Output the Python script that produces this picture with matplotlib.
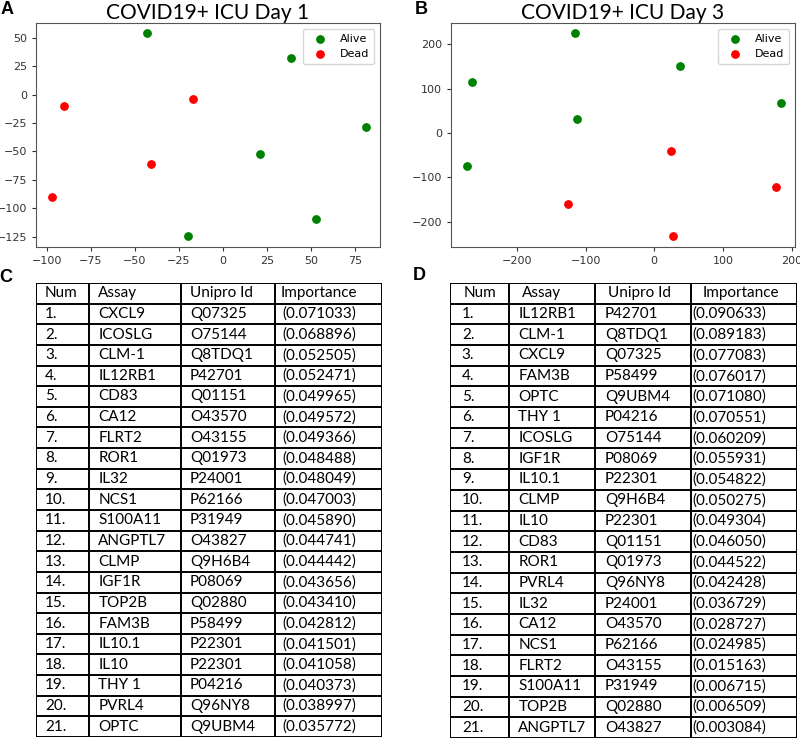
import matplotlib.pyplot as plt

# scatter data, panel A (day 1)
day1_alive_x = [-43, 38.5, 81, 21, 53, -20]
day1_alive_y = [54, 32, -28.5, -52.5, -109, -124]
day1_dead_x = [-90, -17, -41, -97]
day1_dead_y = [-10, -3.5, -61, -90]

# scatter data, panel B (day 3)
day3_alive_x = [-116, 37, -266, 184, -113, -273]
day3_alive_y = [225, 151, 114, 67, 32, -74]
day3_dead_x = [24, 177, -125, 27]
day3_dead_y = [-40, -121, -159, -232]

HEADER = ['Num', 'Assay', 'Unipro Id', 'Importance']

day1_assay = ['CXCL9', 'ICOSLG', 'CLM-1', 'IL12RB1', 'CD83', 'CA12', 'FLRT2',
              'ROR1', 'IL32', 'NCS1', 'S100A11', 'ANGPTL7', 'CLMP', 'IGF1R',
              'TOP2B', 'FAM3B', 'IL10.1', 'IL10', 'THY 1', 'PVRL4', 'OPTC']
day1_uniprot = ['Q07325', 'O75144', 'Q8TDQ1', 'P42701', 'Q01151', 'O43570',
                'O43155', 'Q01973', 'P24001', 'P62166', 'P31949', 'O43827',
                'Q9H6B4', 'P08069', 'Q02880', 'P58499', 'P22301', 'P22301',
                'P04216', 'Q96NY8', 'Q9UBM4']
day1_importance = [0.071033, 0.068896, 0.052505, 0.052471, 0.049965, 0.049572,
                   0.049366, 0.048488, 0.048049, 0.047003, 0.045890, 0.044741,
                   0.044442, 0.043656, 0.043410, 0.042812, 0.041501, 0.041058,
                   0.040373, 0.038997, 0.035772]

day3_assay = ['IL12RB1', 'CLM-1', 'CXCL9', 'FAM3B', 'OPTC', 'THY 1', 'ICOSLG',
              'IGF1R', 'IL10.1', 'CLMP', 'IL10', 'CD83', 'ROR1', 'PVRL4', 'IL32',
              'CA12', 'NCS1', 'FLRT2', 'S100A11', 'TOP2B', 'ANGPTL7']
day3_uniprot = ['P42701', 'Q8TDQ1', 'Q07325', 'P58499', 'Q9UBM4', 'P04216',
                'O75144', 'P08069', 'P22301', 'Q9H6B4', 'P22301', 'Q01151',
                'Q01973', 'Q96NY8', 'P24001', 'O43570', 'P62166', 'O43155',
                'P31949', 'Q02880', 'O43827']
day3_importance = [0.090633, 0.089183, 0.077083, 0.076017, 0.071080, 0.070551,
                   0.060209, 0.055931, 0.054822, 0.050275, 0.049304, 0.046050,
                   0.044522, 0.042428, 0.036729, 0.028727, 0.024985, 0.015163,
                   0.006715, 0.006509, 0.003084]

TEXT_FONT = ['Lato', 'DejaVu Sans']
W, H = 800, 741


def px_rect(left, top, right, bottom):
    return [left / W, 1 - bottom / H, (right - left) / W, (bottom - top) / H]


def scatter_panel(rect, alive, dead, title, xlim, ylim, xticks, yticks):
    ax = fig.add_axes(rect)
    ax.scatter(alive[0], alive[1], s=28, color='green', label='Alive')
    ax.scatter(dead[0], dead[1], s=28, color='red', label='Dead')
    ax.set_xlim(xlim)
    ax.set_ylim(ylim)
    ax.set_xticks(xticks)
    ax.set_yticks(yticks)
    ax.tick_params(labelsize=8, colors='#333333', length=3)
    for s in ax.spines.values():
        s.set_color('#555555')
    ax.set_title(title, fontsize=15, family=TEXT_FONT, pad=2)
    leg = ax.legend(loc='upper right', fontsize=8, handletextpad=0.8,
                    borderpad=0.5, labelspacing=0.4)
    leg.get_frame().set_edgecolor('#cccccc')
    return ax


def table_panel(rect, edges, pads, assay, uniprot, importance):
    ax = fig.add_axes(rect)
    n = len(assay) + 1
    ax.set_xlim(0, 1)
    ax.set_ylim(n, 0)
    ax.axis('off')
    for i in range(n + 1):
        ax.axhline(i, color='black', lw=1.4)
    for e in edges:
        ax.axvline(e, color='black', lw=1.4)
    rows = [HEADER]
    for i in range(len(assay)):
        rows.append([f'{i + 1}.', assay[i], uniprot[i], f'({importance[i]:.6f})'])
    for r, row in enumerate(rows):
        for c, txt in enumerate(row):
            p = pads[1][c] if r == 0 else pads[0][c]
            ax.text(edges[c] + p, r + 0.5, txt, ha='left', va='center',
                    fontsize=11, family=TEXT_FONT)
    return ax


fig = plt.figure(figsize=(8, 7.41), dpi=100)

scatter_panel(px_rect(36, 23, 380, 247),
              (day1_alive_x, day1_alive_y), (day1_dead_x, day1_dead_y),
              'COVID19+ ICU Day 1', (-106, 89), (-134, 63),
              [-100, -75, -50, -25, 0, 25, 50, 75],
              [50, 25, 0, -25, -50, -75, -100, -125])
scatter_panel(px_rect(451, 23, 795, 247),
              (day3_alive_x, day3_alive_y), (day3_dead_x, day3_dead_y),
              'COVID19+ ICU Day 3', (-296, 205), (-257, 248),
              [-200, -100, 0, 100, 200],
              [-200, -100, 0, 100, 200])

table_panel(px_rect(36, 283, 382, 737), [0, 0.154, 0.419, 0.691, 1.0],
            ([0.026, 0.026, 0.026, 0.02], [0.026, 0.026, 0.026, 0.016]),
            day1_assay, day1_uniprot, day1_importance)
table_panel(px_rect(450, 283, 797, 738), [0, 0.171, 0.418, 0.694, 1.0],
            ([0.034, 0.026, 0.029, 0.004], [0.038, 0.035, 0.038, 0.035]),
            day3_assay, day3_uniprot, day3_importance)

for lab, x, y in [('A', 7, 10), ('B', 421, 10), ('C', 6, 277), ('D', 419, 276)]:
    fig.text(x / W, 1 - y / H, lab, fontsize=13, fontweight='bold',
             family=['Liberation Sans', 'DejaVu Sans'], ha='center', va='center')

fig.savefig('out.png', dpi=100)
